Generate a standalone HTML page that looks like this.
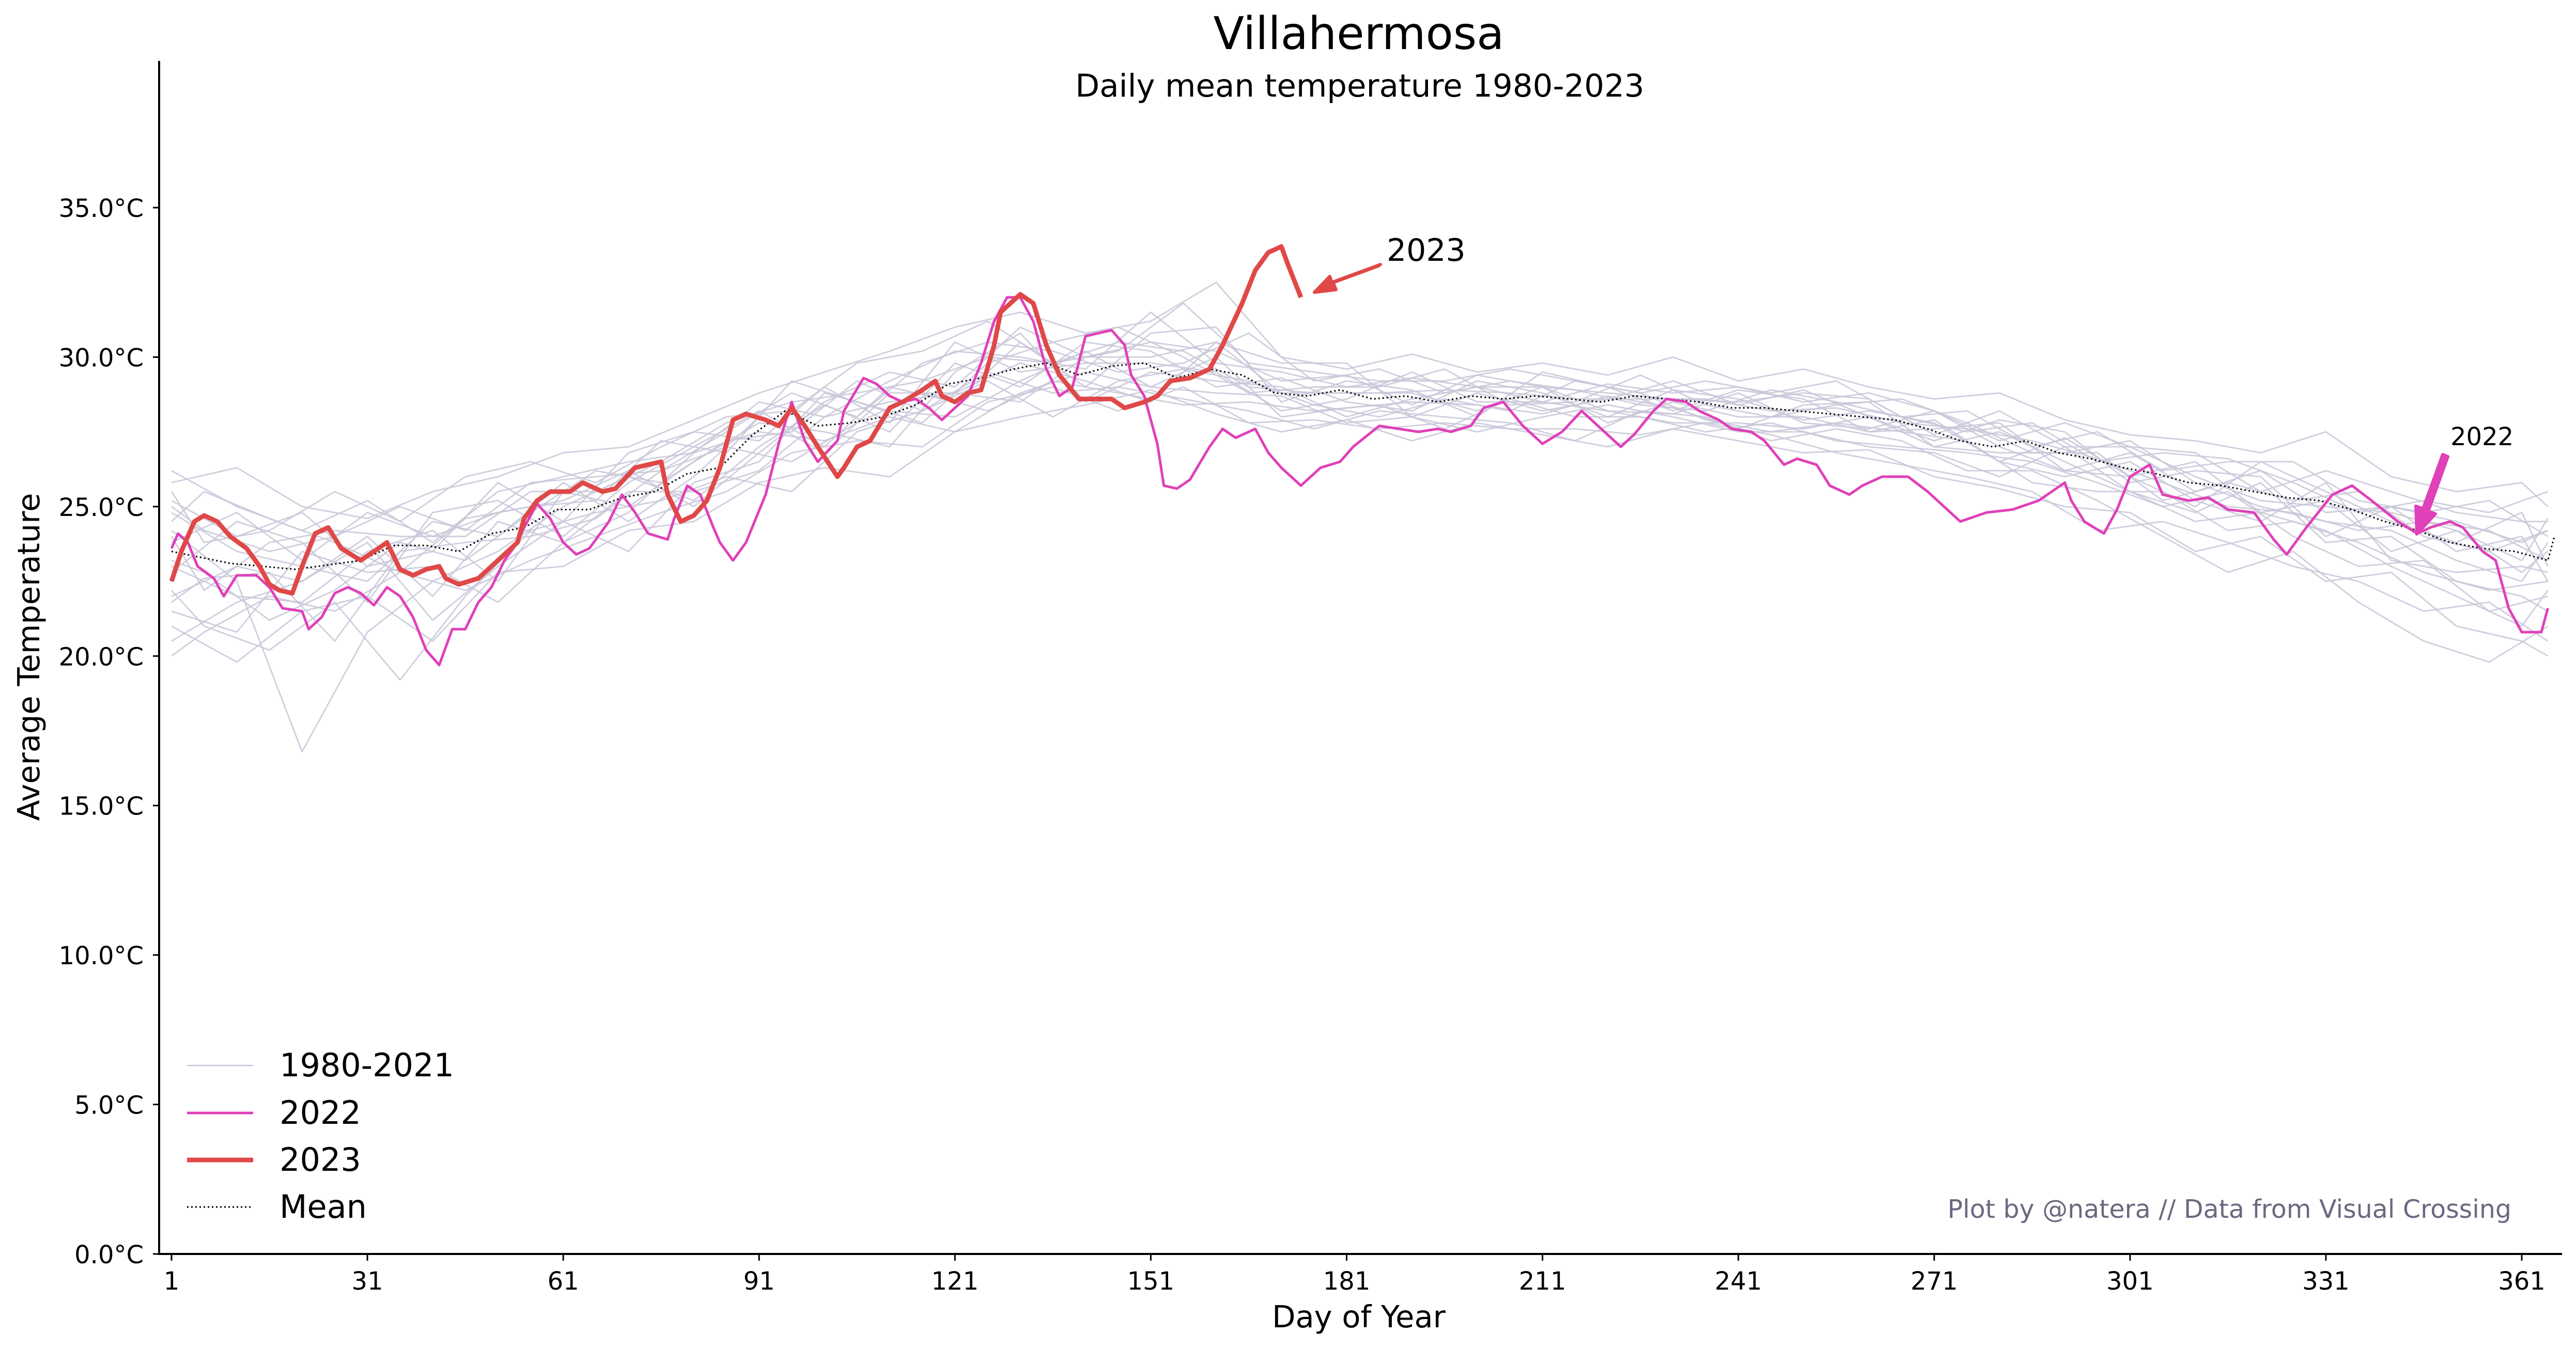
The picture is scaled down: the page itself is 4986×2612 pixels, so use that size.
<!DOCTYPE html>
<html><head><meta charset="utf-8"><style>
html,body{margin:0;padding:0;background:#fff}
svg{display:block}
text{font-family:"DejaVu Sans","Liberation Sans",sans-serif}
</style></head><body>
<svg id="chart" width="4986" height="2612" viewBox="0 0 4986 2612" xmlns="http://www.w3.org/2000/svg">
<rect width="4986" height="2612" fill="#fff"/>
<text x="2630" y="95" font-size="87" text-anchor="middle">Villahermosa</text>
<text x="2632" y="187" font-size="61" text-anchor="middle">Daily mean temperature 1980-2023</text>
<g id="hist"></g>
<g id="series"></g>
<g id="axes"></g>
<text x="2630" y="2570" font-size="59" text-anchor="middle">Day of Year</text>
<text transform="translate(76,1272) rotate(-90)" font-size="59" text-anchor="middle">Average Temperature</text>
<text x="4861" y="2358" font-size="49" text-anchor="end" fill="#6b6880">Plot by @natera // Data from Visual Crossing</text>
<g>
<line x1="362" y1="2063" x2="490" y2="2063" stroke="#c8c6d8" stroke-width="2.5"/>
<text x="541" y="2084" font-size="62">1980-2021</text>
<line x1="362" y1="2155" x2="490" y2="2155" stroke="#e040b8" stroke-width="5"/>
<text x="541" y="2176" font-size="62">2022</text>
<line x1="362" y1="2246" x2="490" y2="2246" stroke="#e04848" stroke-width="9"/>
<text x="541" y="2267" font-size="62">2023</text>
<line x1="362" y1="2337" x2="490" y2="2337" stroke="#000" stroke-width="3" stroke-dasharray="3,5"/>
<text x="541" y="2358" font-size="62">Mean</text>
</g>
<g>
<text x="2684" y="505" font-size="60">2023</text>
<polygon points="2672,512 2580,546 2586,561 2544,566 2574,535 2578,548 2668,515" fill="#e04848" stroke="#e04848" stroke-width="6" stroke-linejoin="round"/>
</g>
<g>
<text x="4743" y="862" font-size="48">2022</text>
<polygon points="4738,884 4700,990 4714,995 4678,1034 4676,980 4690,985 4728,880" fill="#e040b8" stroke="#e040b8" stroke-width="6" stroke-linejoin="round"/>
</g>
</svg>
<script>
const ns="http://www.w3.org/2000/svg";
const yTicks=[0,5,10,15,20,25,30,35];
const xTicks=[1,31,61,91,121,151,181,211,241,271,301,331,361];
const days2023=[1,2.5,4.5,6,8,10,12.5,14.5,16,17.5,19.5,21,23,25,27,30,32,34,36,38,40,42,43,45,48,50,52,54,55,57,59,62,64,67,69,72,74,76,77,79,81,83,85,87,89,92,94,96,98,100,103,104,106,108,111,113,116,118,119,121,123,125,127,128,131,133,135,137,140,142,145,147,150,152,154,157,160,162,165,167,169,171,172,174];
const temp2023=[22.5,23.5,24.5,24.7,24.5,24.0,23.6,23.0,22.4,22.2,22.1,23.0,24.1,24.3,23.6,23.2,23.5,23.8,22.9,22.7,22.9,23.0,22.6,22.4,22.6,23.0,23.4,23.8,24.6,25.2,25.5,25.5,25.8,25.5,25.6,26.3,26.4,26.5,25.4,24.5,24.7,25.2,26.3,27.9,28.1,27.9,27.7,28.3,27.7,27.0,26.0,26.3,27.0,27.2,28.3,28.5,28.9,29.2,28.7,28.5,28.8,28.9,30.4,31.5,32.1,31.8,30.4,29.4,28.6,28.6,28.6,28.3,28.5,28.7,29.2,29.3,29.6,30.4,31.8,32.9,33.5,33.7,33.1,32.0];
const days2022=[1,2,3.5,5,7.5,9,11,14,16,18,21,22,24,26,28,30,32,34,36,38,40,42,44,46,48,50,52,54,55,57,59,61,63,65,68,70,72,74,77,78,80,82,84,85,87,89,92,94,96,98,100,103,104,107,109,111,113,115,117,119,121,123,125,127,129,131,133,135,137,139,141,143,145,147,148,150,152,153,155,157,160,162,164,167,169,171,174,177,180,182,186,189,192,195,197,200,202,205,208,211,214,217,220,223,225,228,230,233,235,238,240,243,245,248,250,253,255,258,260,263,267,270,273,275,279,283,287,291,292,294,297,299,301,304,306,310,313,316,320,323,325,328,332,335,338,342,345,347,350,352,355,357,359,361,362,364,365];
const temp2022=[23.6,24.1,23.8,23.0,22.6,22.0,22.7,22.7,22.3,21.6,21.5,20.9,21.3,22.1,22.3,22.1,21.7,22.3,22.0,21.3,20.2,19.7,20.9,20.9,21.8,22.3,23.2,23.8,24.3,25.1,24.6,23.8,23.4,23.6,24.5,25.4,24.8,24.1,23.9,24.6,25.7,25.4,24.3,23.8,23.2,23.8,25.4,27.1,28.5,27.2,26.5,27.2,28.2,29.3,29.1,28.7,28.5,28.6,28.3,27.9,28.3,28.7,29.8,31.2,32.0,32.0,31.2,29.6,28.7,29.0,30.7,30.8,30.9,30.4,29.4,28.7,27.1,25.7,25.6,25.9,27.0,27.6,27.3,27.6,26.8,26.3,25.7,26.3,26.5,27.0,27.7,27.6,27.5,27.6,27.5,27.7,28.3,28.5,27.7,27.1,27.5,28.2,27.6,27.0,27.4,28.2,28.6,28.5,28.2,27.9,27.6,27.5,27.2,26.4,26.6,26.4,25.7,25.4,25.7,26.0,26.0,25.5,24.9,24.5,24.8,24.9,25.2,25.8,25.2,24.5,24.1,24.9,26.0,26.4,25.4,25.2,25.3,24.9,24.8,23.9,23.4,24.3,25.4,25.7,25.2,24.5,24.1,24.3,24.5,24.3,23.5,23.2,21.6,20.8,20.8,20.8,21.6];
const daysMean=[1,10,20,30,35,40,45,50,55,60,65,70,75,80,85,90,95,100,105,110,115,120,125,130,135,140,145,150,155,160,165,170,175,180,185,190,195,200,205,210,215,220,225,230,235,240,245,250,255,260,265,270,275,280,285,290,295,300,305,310,315,320,325,330,335,340,345,350,355,360,365,366];
const tempMean=[23.5,23.1,22.9,23.2,23.7,23.7,23.5,24.1,24.3,24.9,24.9,25.3,25.5,26.1,26.3,27.4,28.2,27.7,27.8,28.0,28.4,29.1,29.3,29.6,29.8,29.4,29.7,29.8,29.3,29.6,29.4,28.8,28.7,28.9,28.6,28.7,28.5,28.7,28.6,28.7,28.6,28.5,28.7,28.6,28.5,28.3,28.3,28.2,28.1,28.0,27.9,27.6,27.2,27.0,27.2,26.8,26.6,26.3,26.1,25.8,25.7,25.5,25.3,25.2,24.9,24.5,24.2,23.8,23.6,23.5,23.2,24.0];
const histDays=[1,11,21,31,41,51,61,71,81,91,101,111,121,131,141,151,161,171,181,191,201,211,221,231,241,251,261,271,281,291,301,311,321,331,341,351,361,365];
const histDaysB=[1,6,16,26,36,46,56,66,76,86,96,106,116,126,136,146,156,166,176,186,196,206,216,226,236,246,256,266,276,286,296,306,316,326,336,346,356,365];
const hist1=[25.8,26.3,25.0,24.6,25.5,26.0,26.8,27.0,27.9,28.8,29.5,30.2,31.0,31.5,30.8,31.2,32.5,30.0,29.6,30.1,29.5,29.8,29.4,30.0,29.2,29.6,29.0,28.6,28.8,27.9,27.4,27.2,26.8,27.5,26.0,25.5,25.8,25.0];
const hist2=[21.0,19.8,21.5,22.0,20.5,22.8,23.0,24.2,24.5,25.8,26.3,26.0,27.5,28.0,28.4,28.9,28.1,27.5,27.9,27.2,27.8,27.4,27.0,27.6,27.2,26.8,26.9,26.0,25.6,25.0,24.8,23.5,24.0,22.5,22.8,21.0,20.5,20.0];
const hist3=[24.2,22.5,16.8,20.8,22.5,23.5,25.0,26.0,25.2,27.0,28.4,27.5,29.8,29.0,30.5,30.2,29.0,29.3,28.5,28.2,29.2,28.8,28.0,28.9,28.6,27.9,28.2,27.8,26.5,27.3,26.0,26.5,24.8,25.2,23.5,24.2,22.8,23.5];
const hist4=[22.8,24.5,23.8,21.8,24.8,25.2,24.0,25.8,27.0,28.2,27.0,29.0,28.5,30.5,29.0,30.8,31.0,28.5,29.2,28.9,28.0,29.5,29.0,28.2,28.9,28.6,27.5,27.6,27.8,26.2,26.8,25.5,26.2,24.8,25.0,23.5,24.0,22.5];
const hist5=[20.5,21.8,22.5,23.8,21.2,23.0,24.5,23.5,25.8,26.5,28.8,28.2,28.0,29.2,30.2,29.0,30.0,28.0,28.3,28.5,28.4,28.1,28.7,28.3,27.6,28.4,28.5,27.0,27.5,26.5,25.5,24.8,25.8,23.8,24.0,22.5,22.0,21.5];
const hist6=[26.2,25.0,24.2,25.2,23.8,25.5,26.0,26.5,26.8,28.5,28.0,29.2,30.2,30.0,29.6,31.5,29.8,29.5,29.0,29.3,29.0,28.5,29.1,28.8,29.0,28.5,28.8,28.2,27.2,27.8,27.0,26.8,25.5,26.2,25.5,24.8,24.5,24.5];
const hist7=[23.0,22.0,21.8,23.5,24.2,22.5,25.5,25.0,26.5,27.8,27.5,27.0,29.5,30.8,28.5,29.5,29.2,29.0,28.0,28.6,29.0,29.0,27.8,28.5,28.0,28.0,27.5,27.9,26.5,26.0,26.5,25.2,24.5,25.8,23.2,22.8,23.0,22.8];
const hist8=[24.8,23.5,23.0,22.5,24.5,24.0,25.8,24.5,26.0,28.0,26.8,28.8,28.8,28.5,30.0,30.0,30.5,29.8,29.8,28.0,28.8,28.2,28.6,29.2,28.4,28.9,28.0,27.2,27.9,27.5,25.8,26.2,26.0,24.0,25.0,24.5,23.8,24.2];
const hist9=[22.0,23.0,22.5,24.0,22.0,24.5,23.8,25.5,25.5,26.2,28.0,28.5,28.8,29.8,29.2,28.5,30.5,28.8,28.8,28.8,28.2,29.0,28.2,27.8,27.8,27.6,28.0,27.0,26.8,26.8,27.2,25.8,25.0,24.5,24.2,23.2,22.5,23.8];
const hist10=[25.2,24.0,24.8,23.0,23.5,25.8,24.5,26.8,27.5,27.2,29.0,27.8,30.5,29.5,29.8,29.8,29.5,28.2,28.6,29.5,28.5,28.5,28.2,28.1,28.8,27.8,27.6,28.2,27.0,26.2,26.0,25.0,26.5,25.5,24.5,23.8,24.8,23.0];
const hist11=[21.5,20.8,23.5,22.8,23.0,21.8,23.8,24.8,26.8,27.5,27.2,28.0,27.5,28.8,29.5,29.0,28.8,28.7,27.8,28.0,27.5,28.0,28.4,28.0,27.5,27.5,27.0,26.8,26.0,27.0,25.5,24.5,24.8,24.2,23.0,22.0,21.0,22.2];
const hist12=[23.8,24.8,23.2,24.8,24.0,24.8,25.2,26.2,25.0,26.8,28.5,29.5,29.0,31.0,30.0,30.5,30.2,29.2,29.4,28.4,29.4,29.0,28.8,28.6,28.5,28.8,28.6,27.4,28.2,27.0,27.0,26.0,25.2,25.0,24.8,24.2,23.2,24.6];
const hist13=[22.2,21.0,20.2,21.8,19.2,22.0,24.2,24.8,25.2,26.0,25.5,27.5,28.2,29.5,28.8,29.0,28.6,28.2,27.6,28.2,28.0,27.8,27.2,28.2,28.0,27.2,27.6,27.2,26.2,26.2,25.2,24.0,22.8,23.5,21.8,20.5,19.8,21.0];
const hist14=[25.0,24.2,23.5,24.0,25.0,24.2,25.8,26.0,26.2,27.5,28.8,28.0,29.8,30.5,30.2,29.5,29.8,30.8,29.2,29.6,28.8,29.2,28.9,28.4,28.2,28.9,28.5,28.0,27.5,27.8,26.5,26.8,26.6,25.8,24.8,25.2,24.8,25.5];
const hist15=[23.2,22.8,21.2,22.2,23.8,23.2,24.8,26.2,25.8,27.2,27.5,29.2,28.2,29.2,28.0,29.2,29.6,29.2,28.4,28.0,28.6,28.2,29.2,28.8,27.9,27.5,27.8,27.5,27.2,25.8,25.5,25.5,24.2,24.5,23.8,22.8,22.2,22.5];
const hist16=[24.5,25.5,24.6,23.8,22.8,24.6,25.0,25.2,27.2,26.8,29.2,28.5,27.8,29.8,30.5,31.0,30.0,28.8,29.0,29.0,29.6,28.4,28.5,29.4,28.4,28.0,28.4,28.6,27.8,26.8,26.8,25.2,25.8,25.2,25.5,24.0,23.5,24.2];
const hist17=[20.0,20.8,22.0,21.5,22.8,22.2,23.2,24.0,24.8,25.5,26.8,27.2,27.0,28.5,29.0,28.2,29.0,27.8,27.9,27.6,27.8,27.6,27.6,27.4,27.8,27.4,26.8,26.4,26.0,25.5,24.2,24.5,23.8,23.0,22.5,21.5,21.8,20.5];
const hist18=[25.5,23.8,24.2,25.5,24.5,26.0,26.5,25.8,27.0,28.0,28.2,29.8,30.2,31.2,29.8,30.2,31.8,29.8,29.5,29.2,29.2,29.6,29.2,28.8,29.2,28.8,29.2,28.0,28.2,27.0,27.5,26.2,26.5,26.5,25.2,24.8,25.2,24.0];
const hist19=[21.8,22.6,22.8,20.5,23.5,23.8,24.0,24.6,26.2,27.0,26.5,27.8,28.8,28.2,29.2,28.8,28.4,28.5,28.2,28.4,27.6,28.6,28.0,28.0,27.5,27.8,27.2,27.0,26.8,26.5,25.8,25.0,25.5,24.0,23.0,23.2,21.5,22.0];
const hist20=[24.0,22.2,23.8,24.2,24.0,24.0,25.5,25.5,26.5,27.8,28.5,28.8,29.2,30.0,29.8,30.5,30.2,29.0,28.8,28.8,28.9,28.8,28.6,28.6,28.6,28.2,28.3,27.8,27.6,27.2,26.6,25.8,25.0,24.8,24.2,24.5,24.2,23.2];
const histSeries=[hist1,hist2,hist3,hist4,hist5,hist6,hist7,hist8,hist9,hist10,hist11,hist12];
const histSeriesB=[hist13,hist14,hist15,hist16,hist17,hist18,hist19,hist20];

const X0=308,X1=4959,Y0=2428,YT=118;
function xs(d){return 332+(d-1)*(4881-332)/360;}
function ys(t){return 2428-t*(2428-402)/35;}
function mk(tag,attrs,parent){const e=document.createElementNS(ns,tag);for(const k in attrs)e.setAttribute(k,attrs[k]);parent.appendChild(e);return e;}
function pts(ds,vs){return ds.map((d,i)=>xs(d).toFixed(1)+","+ys(vs[i]).toFixed(1)).join(" ");}

const hist=document.getElementById("hist");
histSeries.forEach(s=>{
  const p=mk("polyline",{points:pts(histDays,s),fill:"none",stroke:"#c8c6d8","stroke-width":"2.8","stroke-linejoin":"round","stroke-opacity":"0.85"},hist);
  
  
});
histSeriesB.forEach(s=>{
  const p=mk("polyline",{points:pts(histDaysB,s),fill:"none",stroke:"#c8c6d8","stroke-width":"2.8","stroke-linejoin":"round","stroke-opacity":"0.85"},hist);
  
  
});
const ser=document.getElementById("series");
const m=mk("polyline",{points:pts(daysMean,tempMean),fill:"none",stroke:"#000","stroke-width":"3","stroke-dasharray":"3,5"},ser);


const l22=mk("polyline",{points:pts(days2022,temp2022),fill:"none",stroke:"#e040b8","stroke-width":"5","stroke-linejoin":"round"},ser);


const l23=mk("polyline",{points:pts(days2023,temp2023),fill:"none",stroke:"#e04848","stroke-width":"9","stroke-linejoin":"round","stroke-linecap":"butt"},ser);



const ax=document.getElementById("axes");
const ya=mk("line",{x1:X0,y1:YT,x2:X0,y2:Y0+2,stroke:"#000","stroke-width":"4"},ax);


const xa=mk("line",{x1:X0-2,y1:Y0,x2:X1,y2:Y0,stroke:"#000","stroke-width":"4"},ax);


yTicks.forEach(t=>{
  const y=ys(t);
  const tk=mk("line",{x1:X0-12,y1:y,x2:X0,y2:y,stroke:"#000","stroke-width":"3"},ax);
  
  
  const tx=mk("text",{x:278,y:y+18,"font-size":"48","text-anchor":"end"},ax);
  tx.textContent=t.toFixed(1)+"°C";
  
  
});
xTicks.forEach(d=>{
  const x=xs(d);
  const tk=mk("line",{x1:x,y1:Y0,x2:x,y2:Y0+13,stroke:"#000","stroke-width":"3"},ax);
  
  
  const tx=mk("text",{x:x,y:2497,"font-size":"48","text-anchor":"middle"},ax);
  tx.textContent=String(d);
  
  
});
</script>
</body></html>
